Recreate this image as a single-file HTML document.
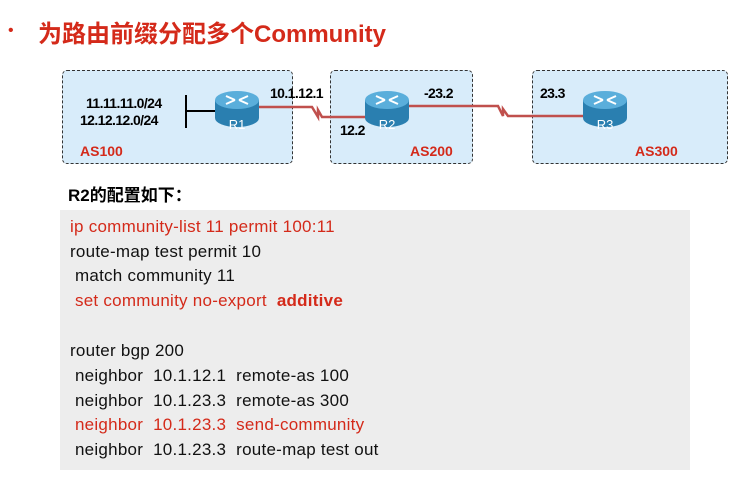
<!DOCTYPE html>
<html><head><meta charset="utf-8"><style>
body{margin:0;width:740px;height:487px;background:#fff;position:relative;overflow:hidden;font-family:"Liberation Sans","Noto Sans CJK SC",sans-serif}
.a{position:absolute;white-space:nowrap}
.l{font-size:14px;font-weight:bold;letter-spacing:-0.6px}
.box{position:absolute;border:1.5px dashed #333;border-radius:5px;background:#d8ecfa;top:70px;height:92px}
.code{position:absolute;left:60px;top:210px;width:630px;height:260px;background:#ededed}
.code div{position:absolute;left:10px;font-size:17px;letter-spacing:0.25px;color:#111;white-space:pre}
.r{color:#d42a1a!important}
</style></head><body>
<div class="a" style="left:8px;top:22px;font-size:16px;color:#d42a1a">•</div>
<div class="a" style="left:38px;top:14px;font-size:24px;font-weight:bold;color:#d42a1a">为路由前缀分配多个Community</div>
<div class="box" style="left:62px;width:229px"></div>
<div class="box" style="left:330px;width:141px"></div>
<div class="box" style="left:532px;width:194px"></div>
<svg class="a" style="left:0;top:0" width="740" height="200">
<defs>
<g id="rt">
<path d="M0,9 v18 a22,9 0 0 0 44,0 v-18 z" fill="#2a7fb0"/>
<ellipse cx="22" cy="9" rx="22" ry="9" fill="#5aaedb"/>
<path d="M11,5 l9,4 M33,5 l-9,4 M11,13 l9,-4 M33,13 l-9,-4" stroke="#fff" stroke-width="2"/>
</g>
</defs>
<line x1="186" y1="95" x2="186" y2="128" stroke="#000" stroke-width="2"/>
<line x1="186" y1="111" x2="218" y2="111" stroke="#000" stroke-width="2"/>
<polyline points="258,107 312,107 318,117 318,110 322,117 370,117" fill="none" stroke="#c0504d" stroke-width="2.5"/>
<polyline points="405,106 498,106 503,116 503,109 508,116 588,116" fill="none" stroke="#c0504d" stroke-width="2.5"/>
<use href="#rt" x="215" y="91"/>
<use href="#rt" x="365" y="91"/>
<use href="#rt" x="583" y="91"/>
<text x="237" y="129" font-size="13" fill="#fff" text-anchor="middle" font-family="Liberation Sans">R1</text>
<text x="387" y="129" font-size="13" fill="#fff" text-anchor="middle" font-family="Liberation Sans">R2</text>
<text x="605" y="129" font-size="13" fill="#fff" text-anchor="middle" font-family="Liberation Sans">R3</text>
</svg>
<div class="a l" style="left:86px;top:95px">11.11.11.0/24</div>
<div class="a l" style="left:80px;top:112px">12.12.12.0/24</div>
<div class="a l" style="left:270px;top:85px">10.1.12.1</div>
<div class="a l" style="left:340px;top:122px">12.2</div>
<div class="a l" style="left:424px;top:85px">-23.2</div>
<div class="a l" style="left:540px;top:85px">23.3</div>
<div class="a l" style="left:80px;top:143px;color:#d42a1a;letter-spacing:0">AS100</div>
<div class="a l" style="left:410px;top:143px;color:#d42a1a;letter-spacing:0">AS200</div>
<div class="a l" style="left:635px;top:143px;color:#d42a1a;letter-spacing:0">AS300</div>
<div class="a" style="left:68px;top:181px;font-size:17px;font-weight:bold">R2的配置如下：</div>
<div class="code">
<div class="r" style="top:7px">ip community-list 11 permit 100:11</div>
<div style="top:32px">route-map test permit 10</div>
<div style="top:56px"> match community 11</div>
<div class="r" style="top:81px"> set community no-export  <b>additive</b></div>
<div style="top:131px">router bgp 200</div>
<div style="top:156px"> neighbor  10.1.12.1  remote-as 100</div>
<div style="top:181px"> neighbor  10.1.23.3  remote-as 300</div>
<div class="r" style="top:205px"> neighbor  10.1.23.3  send-community</div>
<div style="top:230px"> neighbor  10.1.23.3  route-map test out</div>
</div>
</body></html>
